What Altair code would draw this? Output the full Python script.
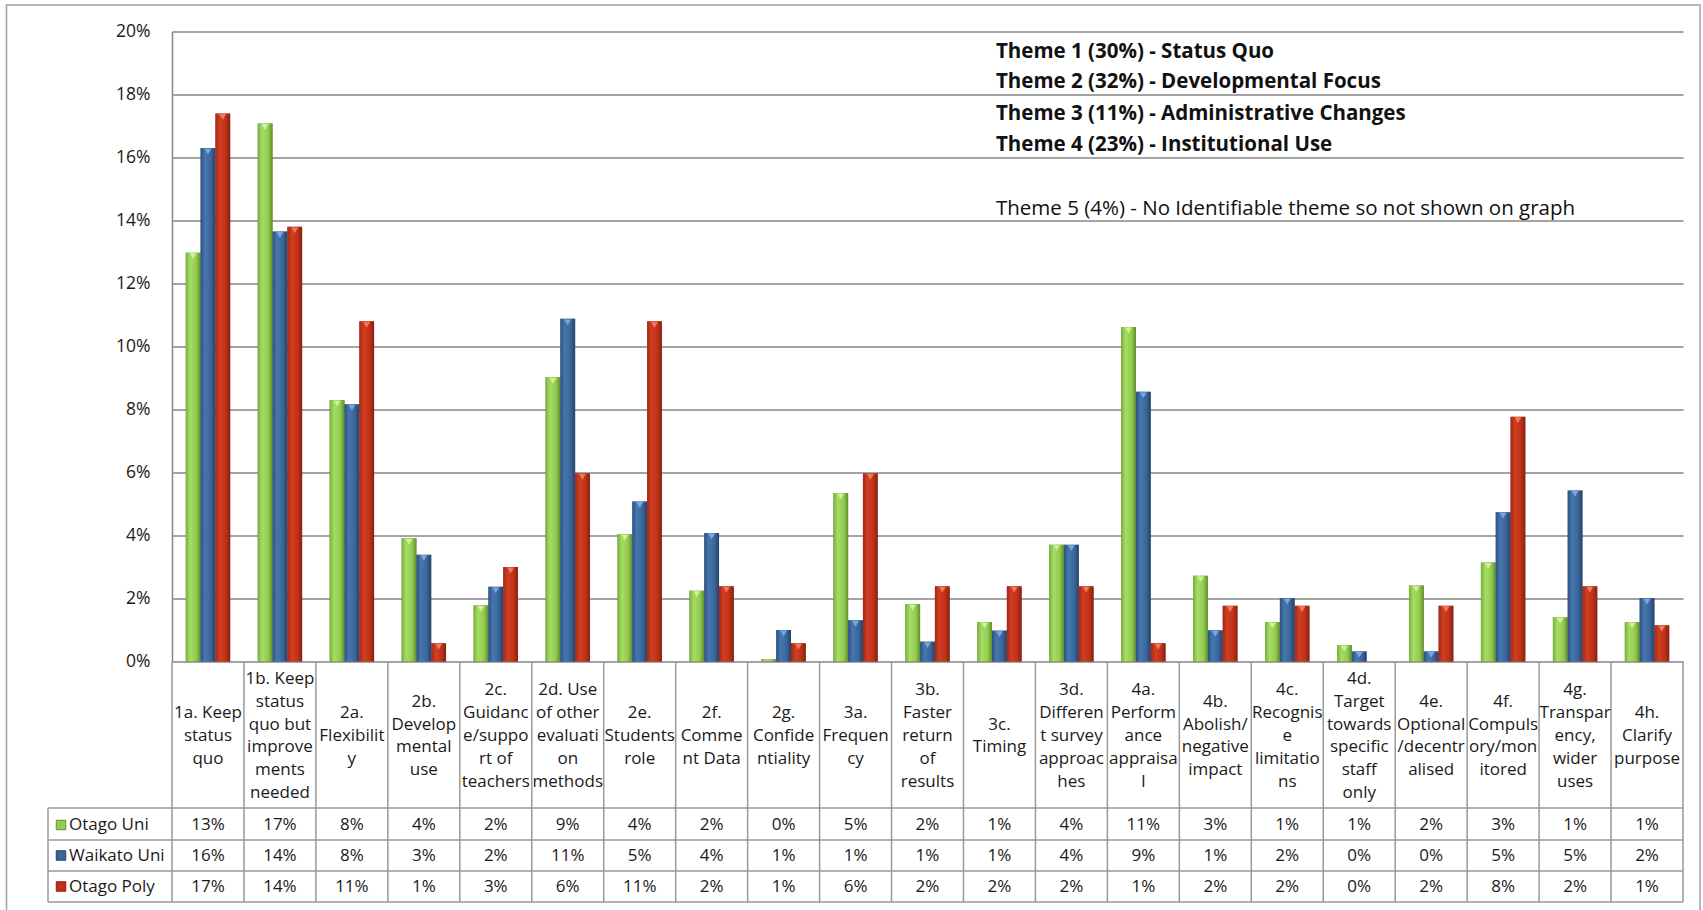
import altair as alt
import pandas as pd

# ---- data -------------------------------------------------------------
codes = ["1a", "1b", "2a", "2b", "2c", "2d", "2e", "2f", "2g", "3a", "3b",
         "3c", "3d", "4a", "4b", "4c", "4d", "4e", "4f", "4g", "4h"]

header_lines = [
    ["1a. Keep", "status", "quo"],
    ["1b. Keep", "status", "quo but", "improve", "ments", "needed"],
    ["2a.", "Flexibilit", "y"],
    ["2b.", "Develop", "mental", "use"],
    ["2c.", "Guidanc", "e/suppo", "rt of", "teachers"],
    ["2d. Use", "of other", "evaluati", "on", "methods"],
    ["2e.", "Students", "role"],
    ["2f.", "Comme", "nt Data"],
    ["2g.", "Confide", "ntiality"],
    ["3a.", "Frequen", "cy"],
    ["3b.", "Faster", "return", "of", "results"],
    ["3c.", "Timing"],
    ["3d.", "Differen", "t survey", "approac", "hes"],
    ["4a.", "Perform", "ance", "appraisa", "l"],
    ["4b.", "Abolish/", "negative", "impact"],
    ["4c.", "Recognis", "e", "limitatio", "ns"],
    ["4d.", "Target", "towards", "specific", "staff", "only"],
    ["4e.", "Optional", "/decentr", "alised"],
    ["4f.", "Compuls", "ory/mon", "itored"],
    ["4g.", "Transpar", "ency,", "wider", "uses"],
    ["4h.", "Clarify", "purpose"],
]

series = ["Otago Uni", "Waikato Uni", "Otago Poly"]

# percentages of responses per sub-theme
otago_uni = [12.98, 17.08, 8.30, 3.91, 1.78, 9.02, 4.04, 2.25, 0.08, 5.35, 1.82,
             1.25, 3.71, 10.62, 2.72, 1.25, 0.52, 2.41, 3.14, 1.40, 1.25]
waikato_uni = [16.30, 13.65, 8.17, 3.39, 2.37, 10.88, 5.08, 4.08, 1.00, 1.31, 0.63,
               0.98, 3.71, 8.56, 0.99, 2.01, 0.32, 0.32, 4.74, 5.43, 2.01]
otago_poly = [17.40, 13.80, 10.80, 0.58, 3.00, 5.97, 10.80, 2.39, 0.58, 5.97, 2.39,
              2.39, 2.39, 0.58, 1.77, 1.77, 0.00, 1.77, 7.77, 2.39, 1.15]

theme_notes = [
    "Theme 1 (30%) - Status Quo",
    "Theme 2 (32%) - Developmental Focus",
    "Theme 3 (11%) - Administrative Changes",
    "Theme 4 (23%) - Institutional Use",
    "Theme 5 (4%) - No Identifiable theme so not shown on graph",
]

# ---- tables -----------------------------------------------------------
rows = []
for s, vals in zip(series, [otago_uni, waikato_uni, otago_poly]):
    for c, v in zip(codes, vals):
        rows.append({"code": c, "series": s, "value": v / 100.0})
df = pd.DataFrame(rows)

cats = pd.DataFrame({
    "code": codes,
    "header": ["\n".join(h) for h in header_lines],
    "n": [len(h) for h in header_lines],
})

# ---- layout / style ---------------------------------------------------
W, H = 1511, 630
FONT = "Open Sans"
TXT = "#1a1a1a"
LINE = "#999999"
FS = 17
LH = 22.8

palette = {
    "Otago Uni":   dict(edge="#76b038", light="#a6dc66", mid="#92cc50", dark="#5f9028", bevel="#d2f59c", flat="#92cc50"),
    "Waikato Uni": dict(edge="#2b5180", light="#4677ae", mid="#3a6699", dark="#22426a", bevel="#7eaee6", flat="#3a6699"),
    "Otago Poly":  dict(edge="#a52612", light="#cf3f22", mid="#bf311a", dark="#8c1e0e", bevel="#f7805f", flat="#bf311a"),
}

x_scale = alt.Scale(domain=codes, paddingInner=0, paddingOuter=0)
xoff_scale = alt.Scale(domain=series, paddingInner=0, paddingOuter=0.93)
y_scale = alt.Scale(domain=[0, 0.2], zero=True, nice=False)
y_axis = alt.Axis(values=[i / 50 for i in range(11)], format=".0%", ticks=False,
                  labelPadding=22, labelFontSize=17.5, labelFont=FONT, labelColor=TXT,
                  domainColor="#868686", domainWidth=1.5, gridColor="#868686",
                  gridWidth=1.5, grid=True)

X = alt.X("code:N", scale=x_scale, axis=None, sort=codes)
XO = alt.XOffset("series:N", scale=xoff_scale, sort=series)
Y = alt.Y("value:Q", scale=y_scale, title=None, axis=y_axis)

layers = []

# outer frame of the chart object
layers.append(
    alt.Chart(cats).transform_filter(alt.datum.code == codes[0])
    .mark_rect(fillOpacity=0, stroke="#a0a0a0", strokeWidth=1.5).encode(
        x=alt.value(-165.5), x2=alt.value(1528), y=alt.value(-26.5), y2=alt.value(900)
    )
)

# soft shadows to the right of each bar
layers.append(
    alt.Chart(df).mark_bar(color="#000000", opacity=0.45, xOffset=2.5).encode(
        x=X, xOffset=XO, y=Y
    )
)

for s in series:
    p = palette[s]
    grad = alt.Gradient(
        gradient="linear", x1=0, x2=1, y1=0, y2=0,
        stops=[alt.GradientStop(color=p["edge"], offset=0),
               alt.GradientStop(color=p["light"], offset=0.3),
               alt.GradientStop(color=p["mid"], offset=0.7),
               alt.GradientStop(color=p["dark"], offset=1)],
    )
    layers.append(
        alt.Chart(df).transform_filter(alt.datum.series == s).mark_bar(color=grad).encode(
            x=X, xOffset=XO, y=Y
        )
    )
    # bevel highlight at the top of each bar
    layers.append(
        alt.Chart(df).transform_filter((alt.datum.series == s) & (alt.datum.value > 0.002))
        .mark_point(shape="triangle-down", filled=True, size=45, opacity=0.9,
                    color=p["bevel"], yOffset=3.5)
        .encode(x=X, xOffset=XO, y=Y)
    )

# ---- data table under the plot ---------------------------------------
HEADER_MID = 704.5
ROW_MID = [793.5, 824.0, 855.0]
ROW_LINES = [776.5, 808.5, 839.5, 870.5]
LEFT_EDGE = -124

# column separators at category boundaries
layers.append(
    alt.Chart(cats).mark_rule(color=LINE, strokeWidth=1.5).encode(
        x=alt.X("code:N", scale=x_scale, axis=None, sort=codes, bandPosition=0),
        y=alt.value(H), y2=alt.value(ROW_LINES[-1])
    )
)
layers.append(
    alt.Chart(cats).transform_filter(alt.datum.code == codes[-1]).mark_rule(color=LINE, strokeWidth=1.5).encode(
        x=alt.X("code:N", scale=x_scale, axis=None, sort=codes, bandPosition=1),
        y=alt.value(H), y2=alt.value(ROW_LINES[-1])
    )
)
# left edge of the series-name column
layers.append(
    alt.Chart(cats).transform_filter(alt.datum.code == codes[0]).mark_rule(color=LINE, strokeWidth=1.5).encode(
        x=alt.value(LEFT_EDGE), y=alt.value(ROW_LINES[0]), y2=alt.value(ROW_LINES[-1])
    )
)
# row separators
for yy in ROW_LINES:
    layers.append(
        alt.Chart(cats).transform_filter(alt.datum.code == codes[0]).mark_rule(color=LINE, strokeWidth=1.5).encode(
            x=alt.value(LEFT_EDGE), x2=alt.value(W), y=alt.value(yy)
        )
    )

# column headers, vertically centred in the header cell
for n in sorted(set(cats["n"])):
    layers.append(
        alt.Chart(cats).transform_filter(alt.datum.n == n).mark_text(
            lineBreak="\n", align="center", baseline="middle",
            font=FONT, fontSize=FS, lineHeight=LH, color=TXT).encode(
            x=X, y=alt.value(HEADER_MID - (n - 1) / 2 * LH), text="header:N"
        )
    )

# value rows with series keys
for s, ym in zip(series, ROW_MID):
    p = palette[s]
    layers.append(
        alt.Chart(df).transform_filter(alt.datum.series == s).mark_text(
            align="center", baseline="middle", font=FONT, fontSize=FS, color=TXT).encode(
            x=X, y=alt.value(ym), text=alt.Text("value:Q", format=".0%")
        )
    )
    key_df = pd.DataFrame({"series": [s]})
    layers.append(
        alt.Chart(key_df).mark_point(shape="square", filled=True, size=90, opacity=1,
                                     color=p["flat"], stroke=p["dark"], strokeWidth=1).encode(
            x=alt.value(-111), y=alt.value(ym)
        )
    )
    layers.append(
        alt.Chart(key_df).mark_text(align="left", baseline="middle", font=FONT,
                                    fontSize=FS, color=TXT).encode(
            x=alt.value(-103), y=alt.value(ym), text="series:N"
        )
    )

# theme notes in the upper right
note_y = [20, 50.5, 82, 113.5, 177]
for i, (note, yy) in enumerate(zip(theme_notes, note_y)):
    layers.append(
        alt.Chart(pd.DataFrame({"note": [note]})).mark_text(
            align="left", baseline="middle", font=FONT, fontSize=20.5,
            fontWeight="bold" if i < 4 else "normal", color="#111111").encode(
            x=alt.value(824), y=alt.value(yy), text="note:N"
        )
    )

chart = alt.layer(*layers).properties(
    width=W, height=H,
    autosize=alt.AutoSizeParams(type="none"),
    padding={"left": 172, "top": 31.5, "right": 20, "bottom": 248.5},
    background="white",
).configure_view(strokeWidth=0)

chart.save("out.html", embed_options={"renderer": "svg", "actions": False})
